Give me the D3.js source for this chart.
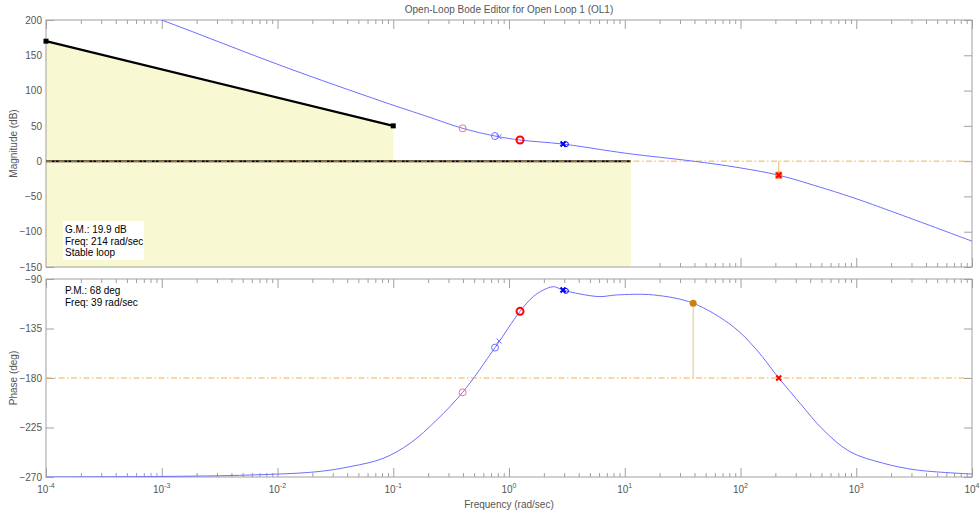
<!DOCTYPE html>
<html>
<head>
<meta charset="utf-8">
<script src="https://cdn.jsdelivr.net/npm/d3@7"></script>
<style>
  body { margin: 0; background: #fff; }
  svg { font-family: "Liberation Sans", Arial, sans-serif; }
</style>
</head>
<body>
<div id="chart"></div>
<script>
// open-loop magnitude curve (rad/sec, dB)
const magFreq = [1e-4, 0.001, 0.0111, 0.0815, 0.2, 0.398, 0.757, 1.245, 2.93, 10.4, 38.9, 93.3, 212, 490, 1072, 10000];
const magDb   = [260, 200, 134.5, 84.2, 62.9, 46.5, 35.6, 29.9, 24.2, 11, 0, -8.8, -19.8, -37, -55, -113.4];

// open-loop phase curve (rad/sec, deg)
const phaseFreq = [1e-4, 0.001, 0.00578, 0.0219, 0.0423, 0.082, 0.1396, 0.237, 0.398, 0.757, 1.245, 1.62, 1.98, 2.42, 2.93, 4.1, 6.1, 8.5, 17.7, 38.9, 86.7, 138, 214, 327, 520, 883, 1714, 3311, 10000];
const phaseDeg  = [-270, -269.5, -268.2, -265.2, -260.6, -253, -239.4, -218.2, -193, -152.4, -119.4, -106, -100, -97, -100, -103.6, -106, -104.5, -104.5, -112, -133.4, -154.5, -180, -203, -227.3, -247, -257.5, -263.6, -267.3];

// design constraint region (yellow)
const boundFreq = [1e-4, 0.1, 0.1, 11.3];
const boundDb   = [170, 50, 0, 0];
// lower bound line at 0 dB
const floorFreq = [1e-4, 11.3];
const floorDb   = [0, 0];

// compensator / closed loop markers
const markerFreq  = [0.398, 0.757, 0.82, 1.245, 2.93, 3.1];
const markerMag   = [46.5, 35.6, 34.5, 29.9, 24.2, 24.0];
const markerPhase = [-193, -152.4, -146.4, -119.4, -100, -100.8];
const markerKind  = ["pinkO", "blueO", "bluex", "redO", "blueX", "blueo"];

// margins
const gmFreq = 214, gmDb = -19.9;
const pmFreq = 39, pmDeg = -112;

const magTicks = [200, 150, 100, 50, 0, -50, -100, -150];
const phaseTicks = [-90, -135, -180, -225, -270];
const decades = [-4, -3, -2, -1, 0, 1, 2, 3, 4];

const W = 980, H = 514;
const left = 46, right = 972;

const svg = d3.select("#chart").append("svg")
    .attr("width", W).attr("height", H);

const x = d3.scaleLog().domain([1e-4, 1e4]).range([left, right]);
const yMag = d3.scaleLinear().domain([-150, 200]).range([267, 20]);
const yPh = d3.scaleLinear().domain([-270, -90]).range([477, 279]);

const frame = "#a0a0a0";
const textCol = "#555";
const blue = "#6e6eff";
const dashCol = "#efb24e";

const allTicks = x.ticks();
const majorTicks = allTicks.filter(d => Math.abs(Math.log10(d) - Math.round(Math.log10(d))) < 1e-9);
const minorTicks = allTicks.filter(d => majorTicks.indexOf(d) < 0);

function drawAxes(y, ticks, top, bottom, name) {
    const g = svg.append("g");
    // x ticks at top and bottom, pointing inward
    [[minorTicks, 4], [majorTicks, 9]].forEach(([vals, len]) => {
        g.append("g").attr("transform", "translate(0," + top + ")")
            .call(d3.axisTop(x).tickValues(vals).tickSize(-len).tickFormat(""));
        g.append("g").attr("transform", "translate(0," + bottom + ")")
            .call(d3.axisBottom(x).tickValues(vals).tickSize(-len).tickFormat(""));
    });
    g.append("g").attr("transform", "translate(" + left + ",0)")
        .call(d3.axisLeft(y).tickValues(ticks).tickSize(-8).tickPadding(4));
    g.append("g").attr("transform", "translate(" + right + ",0)")
        .call(d3.axisRight(y).tickValues(ticks).tickSize(-8).tickFormat(""));
    g.selectAll(".domain").remove();
    g.selectAll("line").attr("stroke", frame);
    g.selectAll("text").attr("fill", textCol).style("font-size", "10px");

    svg.append("text")
        .attr("transform", "rotate(-90)")
        .attr("x", -(top + bottom) / 2).attr("y", 17)
        .attr("text-anchor", "middle")
        .attr("fill", textCol).style("font-size", "10px")
        .text(name);
}

function drawFrame(top, bottom) {
    svg.append("rect")
        .attr("x", left).attr("y", top)
        .attr("width", right - left).attr("height", bottom - top)
        .attr("fill", "none").attr("stroke", frame).attr("stroke-width", 1);
}

function clip(id, top, bottom) {
    svg.append("clipPath").attr("id", id).append("rect")
        .attr("x", left).attr("y", top).attr("width", right - left).attr("height", bottom - top);
}

function xMark(g, cx, cy, s, col, w) {
    g.append("path")
        .attr("d", "M" + (cx - s) + "," + (cy - s) + "L" + (cx + s) + "," + (cy + s) +
                   "M" + (cx - s) + "," + (cy + s) + "L" + (cx + s) + "," + (cy - s))
        .attr("stroke", col).attr("stroke-width", w).attr("fill", "none");
}

function drawMarkers(y, vals) {
    const g = svg.append("g");
    markerKind.forEach((k, i) => {
        const cx = x(markerFreq[i]), cy = y(vals[i]);
        if (k === "pinkO") g.append("circle").attr("cx", cx).attr("cy", cy).attr("r", 3.5)
            .attr("fill", "none").attr("stroke", "#ff7070");
        if (k === "blueO") g.append("circle").attr("cx", cx).attr("cy", cy).attr("r", 3.5)
            .attr("fill", "none").attr("stroke", "#7070ff");
        if (k === "bluex") xMark(g, cx, cy, 2.5, "#7070ff", 1);
        if (k === "redO") g.append("circle").attr("cx", cx).attr("cy", cy).attr("r", 3.5)
            .attr("fill", "none").attr("stroke", "red").attr("stroke-width", 2);
        if (k === "blueX") xMark(g, cx, cy, 2.5, "blue", 2);
        if (k === "blueo") g.append("circle").attr("cx", cx).attr("cy", cy).attr("r", 2.5)
            .attr("fill", "none").attr("stroke", "blue");
    });
}

// title
svg.append("text")
    .attr("x", (left + right) / 2).attr("y", 13)
    .attr("text-anchor", "middle")
    .attr("fill", textCol).style("font-size", "10px")
    .text("Open-Loop Bode Editor for Open Loop 1 (OL1)");

// ---------- magnitude plot ----------
drawAxes(yMag, magTicks, 20, 267, "Magnitude (dB)");
clip("clipMag", 20, 267);

const boundData = boundFreq.map((f, i) => ({f: f, v: boundDb[i]}));
svg.append("path")
    .datum(boundData)
    .attr("d", d3.area().x(d => x(d.f)).y0(yMag(-150)).y1(d => yMag(d.v)))
    .attr("fill", "#f8f8d3");

drawFrame(20, 267);

// black constraint lines
const line = d3.line().x(d => x(d.f)).y(d => yMag(d.v));
svg.append("path")
    .datum(boundData.slice(0, 2))
    .attr("d", line)
    .attr("stroke", "#000").attr("stroke-width", 2.2).attr("fill", "none");
svg.append("path")
    .datum(floorFreq.map((f, i) => ({f: f, v: floorDb[i]})))
    .attr("d", line)
    .attr("stroke", "#000").attr("stroke-width", 2).attr("fill", "none");
svg.selectAll(".endsq")
    .data(boundData.slice(0, 2))
    .enter().append("rect")
    .attr("x", d => x(d.f) - 2.5).attr("y", d => yMag(d.v) - 2.5)
    .attr("width", 5).attr("height", 5).attr("fill", "#000");

// 0 dB reference
svg.append("line")
    .attr("x1", left).attr("x2", right)
    .attr("y1", yMag(0)).attr("y2", yMag(0))
    .attr("stroke", dashCol).attr("stroke-width", 1)
    .attr("stroke-dasharray", "6,2.5,1.5,2.5");

// gain margin stem
svg.append("line")
    .attr("x1", x(gmFreq)).attr("x2", x(gmFreq))
    .attr("y1", yMag(0)).attr("y2", yMag(gmDb))
    .attr("stroke", "#f0b860").attr("stroke-width", 1);

const magData = magFreq.map((f, i) => ({f: f, v: magDb[i]}));
svg.append("path")
    .datum(magData)
    .attr("clip-path", "url(#clipMag)")
    .attr("d", d3.line().x(d => x(d.f)).y(d => yMag(d.v)).curve(d3.curveCatmullRom.alpha(0.5)))
    .attr("stroke", blue).attr("stroke-width", 1).attr("fill", "none");

drawMarkers(yMag, markerMag);

// gain margin marker
svg.append("rect")
    .attr("x", x(gmFreq) - 3.5).attr("y", yMag(gmDb) - 3.5)
    .attr("width", 7).attr("height", 7).attr("fill", "#f08a20");
xMark(svg, x(gmFreq), yMag(gmDb), 2.5, "red", 2);

// GM box
svg.append("rect")
    .attr("x", 63).attr("y", 221).attr("width", 81).attr("height", 39)
    .attr("fill", "#fff");
["G.M.: 19.9 dB", "Freq: 214 rad/sec", "Stable loop"].forEach((t, i) => {
    svg.append("text")
        .attr("x", 65).attr("y", 233 + i * 11.7)
        .attr("fill", "#000").style("font-size", "10px")
        .text(t);
});

// ---------- phase plot ----------
drawAxes(yPh, phaseTicks, 279, 477, "Phase (deg)");
clip("clipPh", 279, 477);
drawFrame(279, 477);

svg.append("line")
    .attr("x1", left).attr("x2", right)
    .attr("y1", yPh(-180)).attr("y2", yPh(-180))
    .attr("stroke", dashCol).attr("stroke-width", 1)
    .attr("stroke-dasharray", "6,2.5,1.5,2.5");

// phase margin stem
svg.append("line")
    .attr("x1", x(pmFreq)).attr("x2", x(pmFreq))
    .attr("y1", yPh(-180)).attr("y2", yPh(pmDeg))
    .attr("stroke", "#e8c080").attr("stroke-width", 1);

const phData = phaseFreq.map((f, i) => ({f: f, v: phaseDeg[i]}));
svg.append("path")
    .datum(phData)
    .attr("clip-path", "url(#clipPh)")
    .attr("d", d3.line().x(d => x(d.f)).y(d => yPh(d.v)).curve(d3.curveCatmullRom.alpha(0.5)))
    .attr("stroke", blue).attr("stroke-width", 1).attr("fill", "none");

drawMarkers(yPh, markerPhase);

svg.append("circle")
    .attr("cx", x(pmFreq)).attr("cy", yPh(pmDeg)).attr("r", 3.5)
    .attr("fill", "#cc8010");
xMark(svg, x(gmFreq), yPh(-180), 2.5, "red", 2);

["P.M.: 68 deg", "Freq: 39 rad/sec"].forEach((t, i) => {
    svg.append("text")
        .attr("x", 65).attr("y", 294 + i * 11.7)
        .attr("fill", "#000").style("font-size", "10px")
        .text(t);
});

// x tick labels (10^n)
decades.forEach(n => {
    const t = svg.append("text")
        .attr("x", x(Math.pow(10, n))).attr("y", 493)
        .attr("text-anchor", "middle")
        .attr("fill", textCol).style("font-size", "10px");
    t.append("tspan").text("10");
    t.append("tspan").attr("dy", -5).style("font-size", "7px").text(n);
});

svg.append("text")
    .attr("x", (left + right) / 2).attr("y", 508)
    .attr("text-anchor", "middle")
    .attr("fill", textCol).style("font-size", "10px")
    .text("Frequency (rad/sec)");
</script>
</body>
</html>
